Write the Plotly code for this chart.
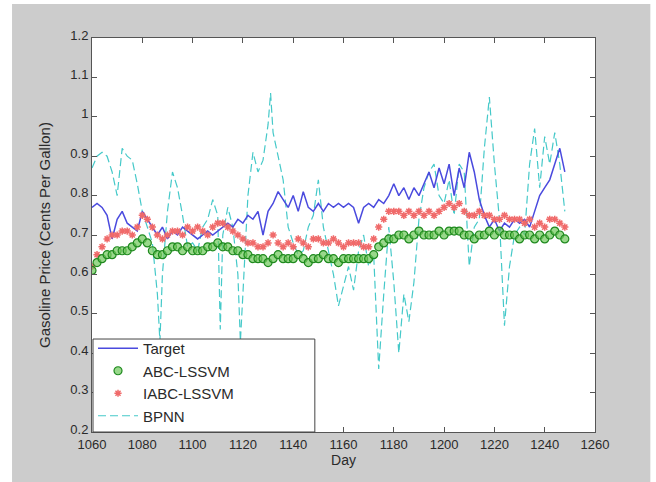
import plotly.graph_objects as go

# ---- data ----
days = list(range(1060, 1249, 2))

target = [0.77, 0.78, 0.77, 0.75, 0.69, 0.74, 0.76, 0.73, 0.72, 0.71,
          0.76, 0.74, 0.72, 0.70, 0.72, 0.69, 0.71, 0.70, 0.72, 0.71,
          0.70, 0.69, 0.70, 0.71, 0.70, 0.71, 0.72, 0.73, 0.72, 0.74,
          0.73, 0.75, 0.74, 0.76, 0.70, 0.76, 0.78, 0.81, 0.79, 0.77,
          0.80, 0.76, 0.81, 0.77, 0.76, 0.78, 0.76, 0.78, 0.77, 0.78,
          0.77, 0.78, 0.77, 0.73, 0.77, 0.78, 0.77, 0.79, 0.78, 0.80,
          0.83, 0.80, 0.82, 0.79, 0.82, 0.80, 0.83, 0.86, 0.82, 0.87,
          0.83, 0.88, 0.80, 0.87, 0.82, 0.91, 0.86, 0.79, 0.75, 0.72,
          0.74, 0.71, 0.73, 0.72, 0.74, 0.73, 0.74, 0.72, 0.76, 0.80,
          0.82, 0.84, 0.88, 0.92, 0.86]

abc_lssvm = [0.61, 0.63, 0.64, 0.65, 0.65, 0.66, 0.66, 0.66, 0.67, 0.68,
             0.69, 0.68, 0.66, 0.65, 0.65, 0.66, 0.67, 0.67, 0.66, 0.67,
             0.66, 0.66, 0.66, 0.67, 0.67, 0.68, 0.67, 0.67, 0.66, 0.66,
             0.65, 0.65, 0.64, 0.64, 0.64, 0.63, 0.64, 0.65, 0.64, 0.64,
             0.64, 0.65, 0.64, 0.63, 0.64, 0.64, 0.65, 0.64, 0.64, 0.63,
             0.64, 0.64, 0.64, 0.64, 0.64, 0.64, 0.65, 0.67, 0.68, 0.69,
             0.69, 0.70, 0.70, 0.69, 0.70, 0.71, 0.70, 0.70, 0.70, 0.71,
             0.70, 0.71, 0.71, 0.71, 0.70, 0.70, 0.69, 0.70, 0.70, 0.71,
             0.70, 0.71, 0.70, 0.70, 0.70, 0.69, 0.70, 0.70, 0.69, 0.70,
             0.69, 0.70, 0.71, 0.70, 0.69]

iabc_lssvm = [0.62, 0.65, 0.67, 0.69, 0.70, 0.70, 0.71, 0.71, 0.70, 0.72,
              0.75, 0.74, 0.72, 0.70, 0.69, 0.70, 0.71, 0.71, 0.70, 0.72,
              0.71, 0.72, 0.71, 0.70, 0.72, 0.73, 0.73, 0.72, 0.71, 0.70,
              0.69, 0.68, 0.68, 0.67, 0.67, 0.68, 0.70, 0.68, 0.67, 0.68,
              0.67, 0.69, 0.68, 0.67, 0.69, 0.69, 0.68, 0.68, 0.69, 0.68,
              0.67, 0.68, 0.68, 0.68, 0.67, 0.67, 0.69, 0.72, 0.74, 0.76,
              0.76, 0.76, 0.75, 0.76, 0.75, 0.76, 0.75, 0.76, 0.75, 0.76,
              0.77, 0.78, 0.77, 0.78, 0.76, 0.75, 0.75, 0.76, 0.75, 0.75,
              0.74, 0.74, 0.75, 0.74, 0.74, 0.74, 0.73, 0.74, 0.72, 0.73,
              0.72, 0.74, 0.74, 0.73, 0.72]

bpnn_days = [1060, 1062, 1064, 1066, 1068, 1070, 1072, 1074, 1076, 1078,
             1080, 1082, 1084, 1086, 1087, 1088, 1090, 1092, 1094, 1096,
             1098, 1100, 1102, 1104, 1106, 1108, 1110, 1111, 1112, 1114,
             1116, 1118, 1119, 1120, 1122, 1124, 1126, 1128, 1130, 1131,
             1132, 1134, 1136, 1138, 1140, 1142, 1144, 1146, 1148, 1150,
             1152, 1154, 1156, 1158, 1160, 1162, 1164, 1166, 1168, 1170,
             1172, 1174, 1176, 1178, 1180, 1182, 1184, 1186, 1188, 1190,
             1192, 1194, 1196, 1198, 1200, 1202, 1204, 1206, 1208, 1210,
             1212, 1214, 1216, 1218, 1220, 1222, 1224, 1226, 1228, 1230,
             1232, 1234, 1236, 1238, 1240, 1242, 1244, 1246, 1248]

bpnn = [0.87, 0.90, 0.91, 0.90, 0.86, 0.80, 0.92, 0.90, 0.89, 0.83,
        0.76, 0.72, 0.68, 0.55, 0.43, 0.60, 0.76, 0.86, 0.82, 0.75,
        0.67, 0.68, 0.66, 0.72, 0.74, 0.79, 0.75, 0.46, 0.70, 0.77,
        0.72, 0.60, 0.43, 0.55, 0.80, 0.91, 0.86, 0.89, 0.98, 1.06,
        0.96, 0.90, 0.84, 0.72, 0.68, 0.65, 0.66, 0.72, 0.75, 0.84,
        0.72, 0.66, 0.60, 0.52, 0.57, 0.62, 0.56, 0.66, 0.70, 0.62,
        0.65, 0.36, 0.55, 0.72, 0.58, 0.40, 0.55, 0.48, 0.58, 0.74,
        0.82, 0.86, 0.88, 0.80, 0.78, 0.84, 0.75, 0.88, 0.86, 0.62,
        0.72, 0.74, 0.92, 1.05, 0.88, 0.74, 0.47, 0.62, 0.70, 0.72,
        0.70, 0.88, 0.97, 0.82, 0.95, 0.88, 0.96, 0.88, 0.76]

x_ticks = [1060, 1080, 1100, 1120, 1140, 1160, 1180, 1200, 1220, 1240, 1260]
y_ticks = [0.2, 0.3, 0.4, 0.5, 0.6, 0.7, 0.8, 0.9, 1.0, 1.1, 1.2]
y_tick_labels = ["0.2", "0.3", "0.4", "0.5", "0.6", "0.7", "0.8", "0.9", "1", "1.1", "1.2"]

FONT = "Liberation Sans, Arial, sans-serif"
TXT = "#2a2a2a"

# ---- figure ----
fig = go.Figure()

fig.add_trace(go.Scatter(
    x=bpnn_days, y=bpnn, name="BPNN", mode="lines",
    line=dict(color="#45c9c9", width=1.2, dash="8px,4px"),
    legendrank=4))

fig.add_trace(go.Scatter(
    x=days, y=target, name="Target", mode="lines",
    line=dict(color="#4a4ade", width=1.5),
    legendrank=1))

fig.add_trace(go.Scatter(
    x=days, y=iabc_lssvm, name="IABC-LSSVM", mode="markers",
    marker=dict(symbol="asterisk", size=6, color="#f06a6a",
                line=dict(color="#f06a6a", width=1.5)),
    legendrank=3))

fig.add_trace(go.Scatter(
    x=days, y=abc_lssvm, name="ABC-LSSVM", mode="markers",
    marker=dict(symbol="circle", size=8, color="rgba(110,200,90,0.7)",
                line=dict(color="#1f8a1f", width=1.2)),
    legendrank=2))

axis_common = dict(
    showline=True, linecolor="#555555", linewidth=1, mirror="ticks",
    ticks="inside", ticklen=5, tickcolor="#555555",
    showgrid=False, zeroline=False,
    tickfont=dict(family=FONT, size=13, color=TXT),
)

fig.update_xaxes(range=[1060, 1260], tickvals=x_ticks,
                 title=dict(text="Day", standoff=2,
                            font=dict(family=FONT, size=14, color=TXT)),
                 **axis_common)
fig.update_yaxes(range=[0.2, 1.2], tickvals=y_ticks, ticktext=y_tick_labels,
                 ticklabelshift=-3,
                 title=dict(text="Gasoline Price (Cents Per Gallon)", standoff=16,
                            font=dict(family=FONT, size=15, color=TXT)),
                 **axis_common)

# grey figure frame and white plotting area (MATLAB-style)
fig.add_shape(type="rect", xref="paper", yref="paper",
              x0=-0.159, x1=1.11, y0=-0.13, y1=1.086,
              fillcolor="#cccccc", line=dict(width=0), layer="below")
fig.add_shape(type="rect", xref="paper", yref="paper",
              x0=0, x1=1, y0=0, y1=1,
              fillcolor="white", line=dict(width=0), layer="below")
# legend box
fig.add_shape(type="rect", xref="paper", yref="paper",
              x0=0.002, x1=0.443, y0=0.0, y1=0.236,
              fillcolor="white", line=dict(color="#444444", width=1), layer="above")

fig.update_layout(
    width=656, height=482,
    margin=dict(l=92, r=61, t=38, b=50),
    paper_bgcolor="white", plot_bgcolor="white",
    showlegend=True,
    legend=dict(x=0.002, y=0.0, xanchor="left", yanchor="bottom",
                bgcolor="rgba(0,0,0,0)", borderwidth=0,
                font=dict(family=FONT, size=15, color=TXT),
                itemwidth=40, tracegroupgap=0),
)

fig.write_html("out.html",
               config={"displayModeBar": False},
               post_script="document.body.style.margin='0';document.body.style.padding='0';")
